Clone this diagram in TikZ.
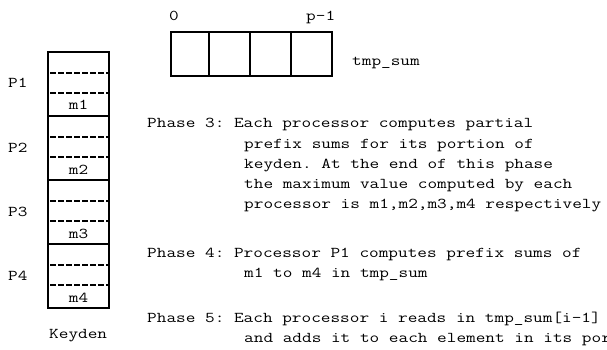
\documentclass[tikz,border=0pt]{standalone}
\usepackage{fontspec}
\usepackage{graphicx}
\newfontfamily\courfont{Latin Modern Mono}
\newlength\mychw
\newcommand\mytt[1]{{\courfont\fontsize{15}{18}\selectfont\frenchspacing
  \settowidth{\mychw}{M}%
  \scalebox{\fpeval{9.65pt/\the\mychw}}[1]{#1}}}
\begin{document}
\begin{tikzpicture}[x=1pt,y=-1pt,
  txt/.style={inner sep=0pt,anchor=base west},
  ctxt/.style={inner sep=0pt,anchor=base},
  boxline/.style={draw,line width=1.8pt},
  dashline/.style={draw,line width=1.5pt,dash pattern=on 5.5pt off 2.5pt}]
\useasboundingbox (0,0) rectangle (607,350);
\clip (0,0) rectangle (607,350);
% tmp_sum array
\draw[boxline] (171,32) rectangle (332,76);
\foreach \x in {209,250,291} \draw[boxline] (\x,32) -- (\x,76);
\node[txt] (zero) at (169,21) {\mytt{0}};
\node[txt] (pm1) at (306,21) {\mytt{p-1}};
\node[txt] (tmps) at (352,66) {\mytt{tmp\_sum}};
% Keyden column
\draw[boxline] (48,52) rectangle (109,308);
\foreach \y in {116,180,244} \draw[boxline] (48,\y) -- (109,\y);
\foreach \i/\y in {1/52,2/116,3/180,4/244}{
  \draw[dashline] (50,\y+21) -- (108,\y+21);
  \draw[dashline] (50,\y+41) -- (108,\y+41);
  \node[ctxt] (m\i) at (78.5,\y+58) {\mytt{m\i}};
  \node[txt] (P\i) at (8,\y+36) {\mytt{P\i}};
}
\node[txt] (keyden) at (49,338) {\mytt{Keyden}};
% Phase texts
\node[txt] (ph3a) at (147,128) {\mytt{Phase 3: Each processor computes partial}};
\node[txt] (ph3b) at (244,148) {\mytt{prefix sums for its portion of}};
\node[txt] (ph3c) at (244,168) {\mytt{keyden. At the end of this phase}};
\node[txt] (ph3d) at (244,188) {\mytt{the maximum value computed by each}};
\node[txt] (ph3e) at (244,208) {\mytt{processor is m1,m2,m3,m4 respectively}};
\node[txt] (ph4a) at (147,257) {\mytt{Phase 4: Processor P1 computes prefix sums of}};
\node[txt] (ph4b) at (244,277) {\mytt{m1 to m4 in tmp\_sum}};
\node[txt] (ph5a) at (147,322) {\mytt{Phase 5: Each processor i reads in tmp\_sum[i-1]}};
\node[txt] (ph5b) at (244,342) {\mytt{and adds it to each element in its portion}};
\end{tikzpicture}
\end{document}
